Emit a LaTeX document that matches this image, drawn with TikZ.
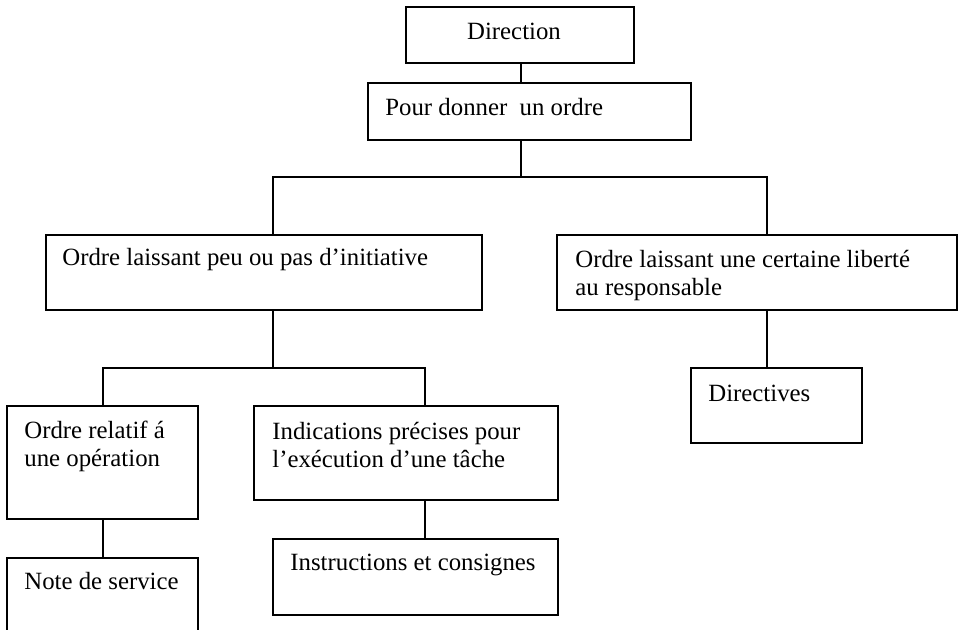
\documentclass[tikz,border=0pt]{standalone}
\usepackage{fontspec}
\setmainfont{Liberation Serif}
\usepackage{tikz}
\usetikzlibrary{positioning,fit}

\tikzset{
  boite/.style={draw, line width=0.9pt, inner sep=0pt, outer sep=0pt},
  libelle/.style={inner sep=0pt, align=left, anchor=west, font=\fontsize{12.4}{14}\selectfont},
  lien/.style={line width=0.9pt},
}

\begin{document}
\begin{tikzpicture}[x=0.5pt,y=-0.5pt]
  \useasboundingbox (0,0) rectangle (959,630);

  % Boxes
  \node[boite, fit={(406,7) (634,63)}] (direction) {};
  \node[boite, fit={(368,83) (691,140)}] (pour) {};
  \node[boite, fit={(46,235) (482,310)}] (peu) {};
  \node[boite, fit={(557,235) (957,310)}] (liberte) {};
  \node[boite, fit={(7,406) (198,519)}] (relatif) {};
  \node[boite, fit={(254,406) (558,500)}] (indications) {};
  \node[boite, fit={(691,368) (862,443)}] (directives) {};
  \node[boite, fit={(7,558) (198,640)}] (note) {};
  \node[boite, fit={(273,539) (558,615)}] (instructions) {};

  % Texts
  \node[libelle, anchor=center] (tdirection) at (514,31) {Direction};
  \node[libelle] (tpour) at (385,107) {Pour donner~ un ordre};
  \node[libelle] (tpeu) at (62,260) {Ordre laissant peu ou pas d’initiative};
  \node[libelle] (tliberte) at (575,276) {Ordre laissant une certaine liberté\\au responsable};
  \node[libelle] (trelatif) at (24,446) {Ordre relatif á\\une opération};
  \node[libelle] (tindications) at (272,445) {Indications précises pour\\l’exécution d’une tâche};
  \node[libelle] (tdirectives) at (708,393) {Directives};
  \node[libelle] (tnote) at (24,581) {Note de service};
  \node[libelle] (tinstructions) at (290,565) {Instructions et consignes};

  % Junctions
  \coordinate (n1) at (521,177);
  \coordinate (n1g) at (273,177);
  \coordinate (n1d) at (767,177);
  \coordinate (n2) at (273,368);
  \coordinate (n2g) at (103,368);
  \coordinate (n2d) at (425,368);

  % Connectors
  \draw[lien] (direction.south -| n1) -- (pour.north -| n1);
  \draw[lien] (pour.south -| n1) -- (n1);
  \draw[lien] (peu.north -| n1g) -- (n1g) -- (n1d) -- (liberte.north -| n1d);
  \draw[lien] (peu.south -| n2) -- (n2);
  \draw[lien] (relatif.north -| n2g) -- (n2g) -- (n2d) -- (indications.north -| n2d);
  \draw[lien] (liberte.south -| n1d) -- (directives.north -| n1d);
  \draw[lien] (relatif.south -| n2g) -- (note.north -| n2g);
  \draw[lien] (indications.south -| n2d) -- (instructions.north -| n2d);
\end{tikzpicture}
\end{document}
